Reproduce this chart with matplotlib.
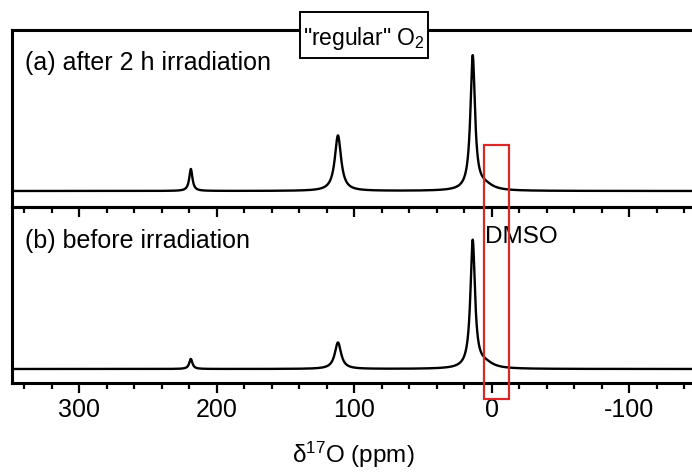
import numpy as np
import matplotlib
matplotlib.use("Agg")
import matplotlib.pyplot as plt
from matplotlib.patches import Rectangle
from matplotlib.ticker import MultipleLocator
from matplotlib.transforms import blended_transform_factory

plt.rcParams["font.family"] = ["Liberation Sans", "DejaVu Sans"]
plt.rcParams["mathtext.fontset"] = "custom"
plt.rcParams["mathtext.rm"] = "Liberation Sans"
plt.rcParams["mathtext.it"] = "Liberation Sans:italic"

# 17O resonances (ppm), intensities (a.u.) and line widths (FWHM, ppm)
shifts = [219.0, 112.0, 14.0, 5.0]
widths = [2.8, 5.5, 4.0, 14.0]
heights_after = [22.0, 55.5, 134.0, 5.0]     # (a) after 2 h irradiation
heights_before = [10.0, 26.5, 127.5, 5.0]    # (b) before irradiation

tick_values = [300, 200, 100, 0, -100]
dmso_window = (6.0, -12.5)
x_range = (349, -150)

W, H = 692, 472
fig = plt.figure(figsize=(W / 100, H / 100), dpi=100)


def fx(px):
    return px / W


def fy(py):
    return 1 - py / H


ax_a = fig.add_axes([fx(12.1), fy(207), fx(686.1), 177 / H])
ax_b = fig.add_axes([fx(12.1), fy(383), fx(686.1), 176 / H])

ppm = np.linspace(x_range[0], x_range[1], 4000)


def spectrum(heights):
    y = np.zeros_like(ppm)
    for c, h, w in zip(shifts, heights, widths):
        hw = w / 2
        y += h * hw**2 / ((ppm - c) ** 2 + hw**2)
    return y


for ax, heights, ylim in ((ax_a, heights_after, (-16, 161)),
                          (ax_b, heights_before, (-14, 162))):
    ax.plot(ppm, spectrum(heights), color="black", lw=1.7)
    ax.set_xlim(*x_range)
    ax.set_ylim(*ylim)
    ax.set_yticks([])
    ax.set_xticks(tick_values)
    ax.xaxis.set_minor_locator(MultipleLocator(20))
    ax.tick_params(axis="x", which="major", direction="out", length=7,
                   width=1.6, labelsize=18, pad=3.5)
    ax.tick_params(axis="x", which="minor", direction="out", length=4,
                   width=1.6)
    for sp in ax.spines.values():
        sp.set_linewidth(2.2)
    ax.patch.set_visible(False)

ax_a.tick_params(axis="x", labelbottom=False)
ax_a.set_zorder(3)
ax_b.set_xticklabels([str(v) for v in tick_values])

# panel labels
fig.text(fx(25), fy(70), "(a) after 2 h irradiation", fontsize=18,
         va="baseline", ha="left")
fig.text(fx(25), fy(248), "(b) before irradiation", fontsize=18,
         va="baseline", ha="left")
fig.text(fx(485), fy(243), "DMSO", fontsize=17.5, va="baseline", ha="left")

# title box
fig.add_artist(Rectangle((fx(300), fy(58)), 128 / W, 46 / H,
                         transform=fig.transFigure, facecolor="white",
                         edgecolor="black", lw=1.4, zorder=10))
fig.text(fx(364), fy(45), '"regular" O$_\\mathregular{2}$', fontsize=16.5,
         va="baseline", ha="center", zorder=11)

# DMSO window marker
trans = blended_transform_factory(ax_b.transData, fig.transFigure)
fig.add_artist(Rectangle((dmso_window[0], fy(399)),
                         dmso_window[1] - dmso_window[0], 254 / H,
                         transform=trans, facecolor="none",
                         edgecolor="#d42a2a", lw=1.6, zorder=12))

# axis title
fig.text(fx(292), fy(455), "δ$^\\mathregular{17}$O (ppm)", fontsize=17.5,
         va="center", ha="left")

fig.savefig("out.png", dpi=100)
